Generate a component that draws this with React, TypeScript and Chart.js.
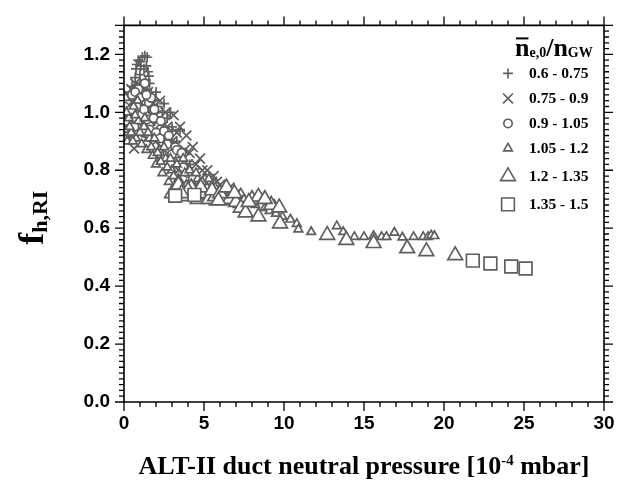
import React, { useEffect, useRef } from 'react';
import { Chart, registerables } from 'chart.js';
import { drawPoint } from 'chart.js/helpers';

Chart.register(...registerables);

// ---------------- data ----------------
const seriesLabels = ['0.6 - 0.75', '0.75 - 0.9', '0.9 - 1.05', '1.05 - 1.2', '1.2 - 1.35', '1.35 - 1.5'];

const plusX = [0.8, 0.9, 1.0, 1.15, 1.3, 1.45, 0.75, 1.05, 1.5, 1.55, 1.35, 1.6, 1.2, 1.45, 1.7, 1.9, 2.1, 2.4, 2.7, 3.0, 0.4, 0.6, 0.9, 1.1, 0.3, 0.5, 1.3, 1.8, 2.2, 2.6, 3.3, 3.7, 4.1, 0.2, 0.5, 0.7, 1.0, 1.25, 1.4, 1.0, 2.0, 2.5, 2.9, 3.5, 0.15];
const plusY = [1.165, 1.18, 1.175, 1.19, 1.195, 1.19, 1.15, 1.16, 1.14, 1.125, 1.11, 1.1, 1.09, 1.08, 1.06, 1.04, 1.02, 1.0, 0.98, 0.95, 1.07, 1.05, 1.06, 1.04, 1.01, 0.99, 1.02, 1.0, 0.97, 0.93, 0.9, 0.86, 0.82, 1.04, 1.09, 1.12, 1.13, 1.15, 1.16, 1.1, 1.07, 1.03, 1.0, 0.94, 0.97];

const crossX = [0.63, 0.1, 0.15, 0.25, 0.35, 0.45, 0.55, 0.7, 0.8, 0.95, 1.05, 1.2, 1.35, 1.5, 1.65, 1.8, 2.0, 2.25, 2.4, 2.6, 2.8, 3.1, 3.2, 3.5, 3.6, 3.9, 4.0, 4.3, 4.4, 4.75, 4.8, 5.2, 5.5, 5.8, 6.2, 6.6, 2.0, 2.9, 1.0, 0.2, 0.4, 0.6, 0.85, 1.15, 1.4, 1.7, 1.9, 2.1, 2.3, 2.5, 2.7, 3.0, 3.3, 3.4, 3.8, 4.1, 4.5, 4.9, 5.3, 5.6, 6.0, 6.4, 7.0, 0.3, 0.9, 1.5, 2.2, 2.9];
const crossY = [0.875, 1.02, 0.96, 1.06, 0.94, 1.08, 1.0, 1.1, 0.97, 1.03, 1.09, 0.99, 1.05, 1.01, 0.97, 1.03, 0.99, 1.04, 0.95, 1.0, 0.92, 0.99, 0.88, 0.95, 0.85, 0.92, 0.82, 0.88, 0.79, 0.84, 0.77, 0.8, 0.76, 0.76, 0.74, 0.74, 0.9, 0.85, 0.93, 0.99, 1.03, 0.93, 1.05, 0.95, 0.91, 0.99, 0.94, 0.97, 0.88, 0.92, 0.95, 0.9, 0.93, 0.8, 0.87, 0.86, 0.82, 0.8, 0.77, 0.78, 0.75, 0.73, 0.72, 0.91, 1.01, 1.07, 0.84, 0.8];

const circleX = [0.1, 0.2, 0.35, 0.5, 0.65, 0.8, 0.9, 1.1, 1.25, 1.3, 1.45, 1.6, 1.7, 1.85, 2.0, 2.25, 2.5, 2.7, 3.0, 3.2, 3.4, 3.7, 4.0, 4.3, 4.7, 5.1, 5.6, 1.2, 0.05, 0.3, 0.45, 0.7, 1.0, 1.4, 1.9, 2.3, 2.8, 3.3, 3.6, 0.6];
const circleY = [0.97, 1.04, 0.99, 1.06, 0.95, 1.02, 1.08, 0.99, 1.01, 1.1, 0.975, 0.94, 1.05, 0.98, 0.93, 0.91, 0.935, 0.89, 0.855, 0.88, 0.83, 0.81, 0.79, 0.77, 0.76, 0.74, 0.73, 0.93, 1.02, 0.93, 1.01, 1.07, 1.05, 1.06, 1.01, 0.97, 0.92, 0.87, 0.86, 0.98];

const triSmallX = [0.05, 0.1, 0.2, 0.3, 0.45, 0.6, 0.75, 0.9, 1.1, 1.25, 1.4, 1.6, 1.8, 2.0, 2.2, 2.4, 2.6, 2.8, 3.0, 3.2, 3.4, 3.6, 3.8, 4.0, 4.2, 4.4, 4.6, 4.8, 5.0, 5.2, 5.4, 5.6, 5.8, 6.0, 6.3, 6.5, 6.8, 7.0, 7.3, 7.6, 7.9, 8.2, 8.5, 8.8, 9.1, 9.5, 9.9, 10.4, 10.8, 10.9, 11.7, 13.3, 13.7, 14.4, 15.0, 15.6, 16.1, 16.4, 16.9, 17.4, 18.1, 18.7, 19.0, 19.2, 19.4, 0.15, 0.35, 0.55, 0.7, 0.85, 1.0, 1.3, 1.5, 1.7, 1.9, 2.1, 2.3, 2.5, 2.7, 2.9, 3.1, 3.3, 3.5, 3.7, 3.9, 4.1, 4.3, 4.5, 4.7, 4.9, 5.1, 5.3, 5.5, 5.7, 5.9, 6.2, 6.6, 7.1, 7.5, 8.0, 8.6, 9.0, 9.4];
const triSmallY = [0.94, 1.05, 0.9, 0.98, 0.93, 1.02, 0.91, 0.97, 0.89, 0.95, 0.87, 0.91, 0.85, 0.82, 0.87, 0.79, 0.84, 0.76, 0.8, 0.74, 0.77, 0.73, 0.79, 0.72, 0.75, 0.71, 0.77, 0.72, 0.7, 0.74, 0.71, 0.69, 0.72, 0.7, 0.73, 0.69, 0.71, 0.7, 0.72, 0.69, 0.7, 0.68, 0.7, 0.67, 0.66, 0.65, 0.64, 0.63, 0.615, 0.596, 0.587, 0.607, 0.587, 0.57, 0.57, 0.573, 0.57, 0.57, 0.585, 0.568, 0.57, 0.57, 0.57, 0.575, 0.573, 1.0, 0.95, 0.9, 0.99, 1.04, 0.93, 0.98, 0.93, 0.88, 0.91, 0.86, 0.83, 0.88, 0.81, 0.84, 0.78, 0.82, 0.76, 0.84, 0.75, 0.8, 0.73, 0.79, 0.75, 0.76, 0.72, 0.77, 0.73, 0.74, 0.7, 0.71, 0.72, 0.68, 0.7, 0.69, 0.7, 0.69, 0.68];

const triBigX = [3.0, 3.4, 3.8, 4.2, 4.6, 5.0, 5.3, 5.7, 6.2, 6.6, 7.0, 7.3, 7.6, 8.0, 8.4, 8.4, 9.2, 9.7, 9.75, 12.7, 13.9, 15.6, 17.7, 18.9, 20.7, 4.0, 4.8, 5.5, 6.0, 6.4, 6.9, 7.8, 8.8, 3.6, 5.9];
const triBigY = [0.72, 0.75, 0.71, 0.74, 0.7, 0.72, 0.7, 0.71, 0.708, 0.7, 0.69, 0.67, 0.654, 0.7, 0.64, 0.708, 0.68, 0.671, 0.616, 0.576, 0.559, 0.548, 0.53, 0.52, 0.506, 0.73, 0.74, 0.73, 0.72, 0.74, 0.72, 0.69, 0.7, 0.72, 0.695];

const squareX = [3.2, 4.4, 21.8, 22.9, 24.2, 25.1];
const squareY = [0.712, 0.715, 0.488, 0.478, 0.468, 0.461];

const xTickValues = [0, 5, 10, 15, 20, 25, 30];
const yTickValues = [0, 0.2, 0.4, 0.6, 0.8, 1.0, 1.2];

// ---------------- styles ----------------
const MARK = '#5e5e5e';
const styles = [
  { pointStyle: 'cross', radius: 5 },
  { pointStyle: 'crossRot', radius: 7 },
  { pointStyle: 'circle', radius: 4.2 },
  { pointStyle: 'triangle', radius: 5 },
  { pointStyle: 'triangle', radius: 8.5 },
  { pointStyle: 'rect', radius: 9 },
];
const seriesX = [plusX, crossX, circleX, triSmallX, triBigX, squareX];
const seriesY = [plusY, crossY, circleY, triSmallY, triBigY, squareY];

const SERIF = "'Liberation Serif', 'Times New Roman', serif";
const SANS = "'Liberation Sans', Arial, sans-serif";

const framePlugin = {
  id: 'frame',
  afterDraw(chart: any) {
    const { ctx, chartArea } = chart;
    const { left, right, top, bottom } = chartArea;
    const xs = chart.scales.x;
    const ys = chart.scales.y;
    ctx.save();
    ctx.strokeStyle = '#000';
    ctx.lineWidth = 1.6;
    ctx.beginPath();
    ctx.rect(left, top, right - left, bottom - top);
    ctx.stroke();
    ctx.lineWidth = 1.3;
    ctx.beginPath();
    for (let i = 0; i <= 30; i++) {
      const px = xs.getPixelForValue(i);
      const len = i % 5 === 0 ? 9 : 5;
      ctx.moveTo(px, bottom);
      ctx.lineTo(px, bottom + len);
      ctx.moveTo(px, top);
      ctx.lineTo(px, top - len);
    }
    for (let i = 0; i <= 65; i++) {
      const py = ys.getPixelForValue(i * 0.02);
      const len = i % 10 === 0 || i === 65 ? 9 : 5;
      ctx.moveTo(left, py);
      ctx.lineTo(left - len, py);
      ctx.moveTo(right, py);
      ctx.lineTo(right + len, py);
    }
    ctx.stroke();

    // x axis title
    const cx = (left + right) / 2;
    const base = bottom + 72;
    const part1 = 'ALT-II duct neutral pressure [10';
    const sup = '-4';
    const part2 = ' mbar]';
    const big = `bold 26px ${SERIF}`;
    const small = `bold 15px ${SERIF}`;
    ctx.fillStyle = '#000';
    ctx.textBaseline = 'alphabetic';
    ctx.textAlign = 'left';
    ctx.font = big;
    const w1 = ctx.measureText(part1).width;
    const w3 = ctx.measureText(part2).width;
    ctx.font = small;
    const w2 = ctx.measureText(sup).width;
    let sx = cx - (w1 + w2 + w3) / 2;
    ctx.font = big;
    ctx.fillText(part1, sx, base);
    sx += w1;
    ctx.font = small;
    ctx.fillText(sup, sx, base - 9);
    sx += w2;
    ctx.font = big;
    ctx.fillText(part2, sx, base);

    // y axis title
    ctx.save();
    ctx.translate(43, (top + bottom) / 2 + 4);
    ctx.rotate(-Math.PI / 2);
    const fFont = `bold 36px ${SERIF}`;
    const subFont = `bold 22px ${SERIF}`;
    ctx.font = fFont;
    const fw = ctx.measureText('f').width;
    ctx.font = subFont;
    const sw = ctx.measureText('h,RI').width;
    let ty = -(fw + sw) / 2;
    ctx.font = fFont;
    ctx.fillText('f', ty, 0);
    ty += fw;
    ctx.font = subFont;
    ctx.fillText('h,RI', ty, 4);
    ctx.restore();

    // legend title
    const lx = right - 89;
    const lb = top + 31;
    const nFont = `bold 26px ${SERIF}`;
    const sFont = `bold 14px ${SERIF}`;
    let tx = lx;
    ctx.font = nFont;
    const nw = ctx.measureText('n').width;
    ctx.fillText('n', tx, lb);
    ctx.fillRect(tx + 1, lb - 19, nw - 2, 2);
    tx += nw;
    ctx.font = sFont;
    ctx.fillText('e,0', tx, lb + 1);
    tx += ctx.measureText('e,0').width;
    ctx.font = nFont;
    ctx.fillText('/', tx, lb);
    tx += ctx.measureText('/').width;
    ctx.fillText('n', tx, lb);
    tx += nw;
    ctx.font = sFont;
    ctx.fillText('GW', tx, lb + 1);

    // legend items
    const rows = [48, 73, 98, 123, 151, 179];
    ctx.font = `bold 15.5px ${SERIF}`;
    ctx.textBaseline = 'middle';
    for (let i = 0; i < seriesLabels.length; i++) {
      const yy = top + rows[i];
      ctx.save();
      ctx.strokeStyle = MARK;
      ctx.fillStyle = '#fff';
      ctx.lineWidth = 1.6;
      drawPoint(ctx, { pointStyle: styles[i].pointStyle, radius: styles[i].radius, rotation: 0, borderWidth: 1.6 } as any, right - 96, yy);
      ctx.restore();
      ctx.fillStyle = '#000';
      ctx.fillText(seriesLabels[i], right - 75, yy + 1);
    }
    ctx.restore();
  },
};

export default function App() {
  const ref = useRef<HTMLCanvasElement>(null);
  useEffect(() => {
    const canvas = ref.current;
    if (!canvas) return;
    const datasets = seriesLabels.map((label, i) => ({
      label,
      data: seriesX[i].map((x, j) => ({ x, y: seriesY[i][j] })),
      pointStyle: styles[i].pointStyle as any,
      pointRadius: styles[i].radius,
      pointBorderWidth: 1.7,
      pointBorderColor: MARK,
      pointBackgroundColor: '#ffffff',
      showLine: false,
      order: 5 - i,
    }));
    const chart = new Chart(canvas, {
      type: 'scatter',
      data: { datasets },
      options: {
        responsive: false,
        animation: false,
        devicePixelRatio: 1,
        layout: { padding: { left: 0, top: 16, right: 25, bottom: 0 } },
        plugins: { legend: { display: false }, tooltip: { enabled: false }, title: { display: false } },
        scales: {
          x: {
            type: 'linear',
            min: 0,
            max: 30,
            grid: { display: false, drawTicks: false },
            border: { display: false },
            afterFit: (s: any) => { s.height = 81; },
            afterBuildTicks: (s: any) => { s.ticks = xTickValues.map((v) => ({ value: v })); },
            ticks: {
              color: '#000',
              padding: 10,
              maxRotation: 0,
              font: { family: SANS, size: 19, weight: 'bold' },
              callback: (v: any) => String(v),
            },
          },
          y: {
            type: 'linear',
            min: 0,
            max: 1.3,
            grid: { display: false, drawTicks: false },
            border: { display: false },
            afterFit: (s: any) => { s.width = 124; },
            afterBuildTicks: (s: any) => { s.ticks = yTickValues.map((v) => ({ value: v })); },
            ticks: {
              color: '#000',
              padding: 14,
              font: { family: SANS, size: 19, weight: 'bold' },
              callback: (v: any) => Number(v).toFixed(1),
            },
          },
        },
      },
      plugins: [framePlugin],
    });
    return () => chart.destroy();
  }, []);
  return (
    <div style={{ position: 'absolute', left: 0, top: 0, width: 629, height: 483, background: '#fff' }}>
      <canvas ref={ref} width={629} height={483} />
    </div>
  );
}
